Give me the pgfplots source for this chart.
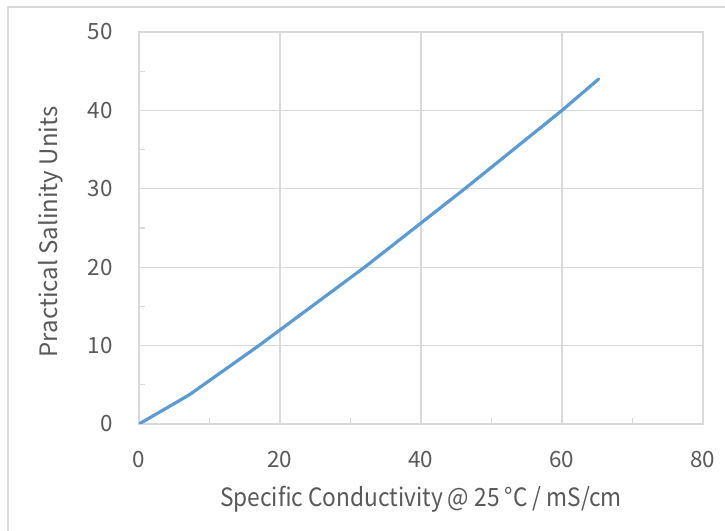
\documentclass[border=0pt]{standalone}
\usepackage{fontspec}
\setmainfont{Noto Sans CJK SC}
\usepackage{pgfplots}
\pgfplotsset{compat=1.18}
\definecolor{lineblue}{HTML}{5B9BD5}
\definecolor{gridgray}{HTML}{D9D9D9}
\definecolor{txtgray}{HTML}{595959}

\begin{document}
\begin{tikzpicture}
\useasboundingbox (0,0) rectangle (362.5pt,265.5pt);
\draw[gridgray, line width=0.75pt] (4pt,0) -- (4pt,262pt) -- (362.5pt,262pt);
\begin{axis}[
    at={(69.5pt,53.5pt)}, anchor=south west,
    scale only axis, width=282pt, height=196pt,
    xmin=0, xmax=80, ymin=0, ymax=50,
    xtick={0,20,...,80}, ytick={0,10,...,50},
    minor xtick={10,30,50,70}, minor ytick={5,15,...,45},
    xtick pos=bottom, ytick pos=left,
    tick align=inside,
    major tick length=0pt, minor tick length=3pt,
    minor tick style={gridgray, line width=0.6pt},
    grid=major,
    major grid style={gridgray, line width=0.6pt},
    axis line style={gridgray, line width=0.6pt},
    /pgf/number format/assume math mode=true,
    ticklabel style={font=\fontsize{11.2}{13}\selectfont, text=txtgray, inner sep=0pt},
    xticklabel style={anchor=center, yshift=-18pt},
    yticklabel style={anchor=east, xshift=-13pt},
    xlabel={Specific Conductivity @ 25 °C / mS/cm},
    ylabel={Practical Salinity Units},
    xlabel style={font=\fontsize{12.6}{15}\selectfont, text=txtgray, inner sep=0pt,
        at={(axis description cs:0.5,-0.2092)}, anchor=base, xscale=0.9},
    ylabel style={font=\fontsize{12}{15}\selectfont, text=txtgray, inner sep=0pt,
        at={(axis description cs:-0.1449,0.49)}, anchor=base},
]
\addplot[lineblue, line width=1.6pt, line join=round, line cap=round] coordinates {
    (0,0) (7.1,3.7) (17.0,10) (32.0,20) (46.2,30) (60.0,40) (65.2,44)
};
\end{axis}
\end{tikzpicture}
\end{document}
